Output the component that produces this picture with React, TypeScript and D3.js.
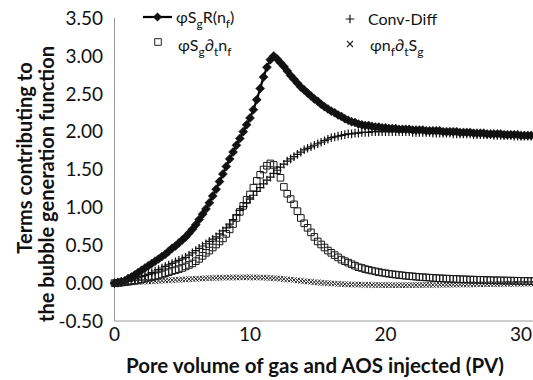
import React from 'react';
import * as d3 from 'd3';

// Pore volumes injected (PV) at which the simulator reported the terms
const PV = [
  0, 0.25, 0.5, 0.75, 1, 1.25, 1.5, 1.75,
  2, 2.25, 2.5, 2.75, 3, 3.25, 3.5, 3.75,
  4, 4.25, 4.5, 4.75, 5, 5.25, 5.5, 5.75,
  6, 6.25, 6.5, 6.75, 7, 7.25, 7.5, 7.75,
  8, 8.25, 8.5, 8.75, 9, 9.25, 9.5, 9.75,
  10, 10.25, 10.5, 10.75, 11, 11.25, 11.5, 11.75,
  12, 12.25, 12.5, 12.75, 13, 13.25, 13.5, 13.75,
  14, 14.25, 14.5, 14.75, 15, 15.25, 15.5, 15.75,
  16, 16.25, 16.5, 16.75, 17, 17.25, 17.5, 17.75,
  18, 18.25, 18.5, 18.75, 19, 19.25, 19.5, 19.75,
  20, 20.25, 20.5, 20.75, 21, 21.25, 21.5, 21.75,
  22, 22.25, 22.5, 22.75, 23, 23.25, 23.5, 23.75,
  24, 24.25, 24.5, 24.75, 25, 25.25, 25.5, 25.75,
  26, 26.25, 26.5, 26.75, 27, 27.25, 27.5, 27.75,
  28, 28.25, 28.5, 28.75, 29, 29.25, 29.5, 29.75,
  30, 30.25, 30.5, 30.75, 31, 31.25,
];

// φ S_g R(n_f)
const GENERATION = [
  0.00, 0.01, 0.02, 0.03, 0.06, 0.08, 0.11, 0.14,
  0.17, 0.20, 0.23, 0.26, 0.29, 0.32, 0.35, 0.38,
  0.42, 0.46, 0.49, 0.53, 0.57, 0.61, 0.66, 0.71,
  0.77, 0.84, 0.91, 0.98, 1.06, 1.15, 1.24, 1.34,
  1.44, 1.54, 1.64, 1.73, 1.82, 1.91, 2.00, 2.09,
  2.18, 2.29, 2.42, 2.57, 2.72, 2.85, 2.95, 3.00,
  2.96, 2.91, 2.86, 2.80, 2.74, 2.69, 2.64, 2.59,
  2.55, 2.51, 2.47, 2.43, 2.40, 2.36, 2.33, 2.30,
  2.27, 2.25, 2.22, 2.20, 2.17, 2.15, 2.13, 2.12,
  2.10, 2.09, 2.08, 2.08, 2.07, 2.06, 2.06, 2.05,
  2.05, 2.04, 2.04, 2.04, 2.03, 2.03, 2.03, 2.03,
  2.02, 2.02, 2.02, 2.02, 2.01, 2.01, 2.01, 2.01,
  2.01, 2.00, 2.00, 2.00, 2.00, 2.00, 1.99, 1.99,
  1.99, 1.99, 1.98, 1.98, 1.98, 1.98, 1.97, 1.97,
  1.97, 1.97, 1.97, 1.96, 1.96, 1.96, 1.96, 1.96,
  1.95, 1.95, 1.95, 1.95, 1.95, 1.94,
];

// φ S_g ∂_t n_f
const ACCUMULATION = [
  0.000, 0.003, 0.007, 0.012, 0.018, 0.025, 0.032, 0.040,
  0.050, 0.060, 0.070, 0.080, 0.090, 0.100, 0.115, 0.130,
  0.145, 0.160, 0.170, 0.185, 0.200, 0.220, 0.240, 0.260,
  0.29, 0.32, 0.36, 0.40, 0.43, 0.47, 0.51, 0.55,
  0.59, 0.65, 0.71, 0.78, 0.86, 0.94, 1.02, 1.10,
  1.17, 1.26, 1.35, 1.43, 1.50, 1.55, 1.58, 1.56,
  1.49, 1.39, 1.27, 1.18, 1.11, 1.04, 0.95, 0.86,
  0.79, 0.73, 0.67, 0.61, 0.55, 0.51, 0.47, 0.43,
  0.40, 0.37, 0.34, 0.31, 0.29, 0.27, 0.25, 0.23,
  0.210, 0.200, 0.185, 0.175, 0.165, 0.155, 0.145, 0.138,
  0.130, 0.124, 0.118, 0.112, 0.107, 0.102, 0.097, 0.093,
  0.089, 0.085, 0.081, 0.078, 0.075, 0.072, 0.069, 0.066,
  0.064, 0.062, 0.060, 0.058, 0.056, 0.054, 0.052, 0.050,
  0.049, 0.047, 0.046, 0.044, 0.043, 0.042, 0.040, 0.039,
  0.038, 0.037, 0.036, 0.035, 0.034, 0.033, 0.032, 0.031,
  0.030, 0.029, 0.028, 0.028, 0.027, 0.026,
];

// Convection-diffusion term
const CONV_DIFF = [
  0.000, 0.003, 0.010, 0.020, 0.030, 0.040, 0.055, 0.070,
  0.085, 0.100, 0.120, 0.140, 0.160, 0.180, 0.200, 0.220,
  0.24, 0.26, 0.28, 0.30, 0.32, 0.34, 0.37, 0.40,
  0.43, 0.46, 0.49, 0.52, 0.55, 0.58, 0.61, 0.65,
  0.69, 0.73, 0.78, 0.84, 0.90, 0.96, 1.01, 1.06,
  1.11, 1.16, 1.21, 1.26, 1.31, 1.36, 1.40, 1.45,
  1.49, 1.53, 1.57, 1.61, 1.64, 1.67, 1.70, 1.73,
  1.76, 1.78, 1.80, 1.82, 1.84, 1.86, 1.88, 1.90,
  1.92, 1.93, 1.94, 1.95, 1.96, 1.97, 1.97, 1.98,
  1.98, 1.99, 1.99, 1.99, 2.00, 2.00, 2.00, 2.00,
  2.00, 2.00, 2.00, 2.00, 2.00, 2.00, 2.00, 2.00,
  1.99, 1.99, 1.99, 1.99, 1.99, 1.99, 1.98, 1.98,
  1.98, 1.98, 1.98, 1.98, 1.97, 1.97, 1.97, 1.97,
  1.97, 1.97, 1.96, 1.96, 1.96, 1.96, 1.96, 1.96,
  1.95, 1.95, 1.95, 1.95, 1.95, 1.95, 1.94, 1.94,
  1.94, 1.94, 1.94, 1.94, 1.93, 1.93,
];

// φ n_f ∂_t S_g
const SATURATION = [
  0.000, 0.002, 0.004, 0.006, 0.008, 0.010, 0.013, 0.015,
  0.018, 0.020, 0.023, 0.025, 0.028, 0.030, 0.033, 0.035,
  0.038, 0.040, 0.043, 0.045, 0.048, 0.050, 0.053, 0.055,
  0.057, 0.060, 0.062, 0.064, 0.066, 0.068, 0.070, 0.071,
  0.072, 0.073, 0.074, 0.075, 0.075, 0.076, 0.076, 0.076,
  0.076, 0.075, 0.075, 0.074, 0.072, 0.070, 0.068, 0.065,
  0.062, 0.058, 0.054, 0.050, 0.046, 0.041, 0.036, 0.031,
  0.026, 0.021, 0.017, 0.013, 0.009, 0.005, 0.002, -0.001,
  -0.004, -0.007, -0.010, -0.012, -0.014, -0.016, -0.018, -0.019,
  -0.020, -0.021, -0.022, -0.023, -0.024, -0.025, -0.025, -0.026,
  -0.026, -0.026, -0.027, -0.027, -0.027, -0.027, -0.027, -0.026,
  -0.026, -0.026, -0.025, -0.025, -0.024, -0.024, -0.023, -0.023,
  -0.022, -0.022, -0.021, -0.021, -0.020, -0.019, -0.019, -0.018,
  -0.017, -0.017, -0.016, -0.015, -0.015, -0.014, -0.013, -0.013,
  -0.012, -0.012, -0.011, -0.010, -0.010, -0.009, -0.009, -0.008,
  -0.008, -0.007, -0.007, -0.006, -0.006, -0.006,
];

const Y_TICKS = [-0.5, 0, 0.5, 1, 1.5, 2, 2.5, 3, 3.5];
const X_TICKS = [0, 10, 20, 30];

const W = 533;
const H = 380;
const FONT = 'Lato, "Open Sans", sans-serif';

const x = d3.scaleLinear().domain([0, 31.5]).range([114.5, 114.5 + 31.5 * 13.55]);
const y = d3.scaleLinear().domain([-0.5, 3.5]).range([321, 18]);
const fmt = (v: number) => d3.format('.2f')(v).replace('\u2212', '-');

// marker shapes, centred on the origin
const diamondPath = (s: number) => `M0,${-s}L${s},0L0,${s}L${-s},0Z`;
const squarePath = (s: number) => `M${-s},${-s}H${s}V${s}H${-s}Z`;
const plusPath = (s: number) => `M${-s},0H${s}M0,${-s}V${s}`;
const crossPath = (s: number) => `M${-s},${-s}L${s},${s}M${-s},${s}L${s},${-s}`;

const genLine = d3
  .line<number>()
  .x((_, i) => x(PV[i]))
  .y((d) => y(d));

function Markers({ values, d, fill, stroke, sw }: { values: number[]; d: string; fill: string; stroke: string; sw: number }) {
  return (
    <g>
      {values.map((v, i) => (
        <path key={i} d={d} transform={`translate(${x(PV[i])},${y(v)})`} fill={fill} stroke={stroke} strokeWidth={sw} />
      ))}
    </g>
  );
}

const sub = (t: string) => (
  <tspan dy={5} fontSize={12}>
    {t}
  </tspan>
);

export default function App() {
  return (
    <svg width={W} height={H} style={{ position: 'absolute', left: 0, top: 0, background: '#fff' }} fontFamily={FONT}>
      <rect width={W} height={H} fill="#fff" />

      {/* axes */}
      <line x1={114.5} x2={114.5} y1={y(3.5)} y2={y(-0.5)} stroke="#9a9a9a" strokeWidth={1} />
      <line x1={114.5} x2={W} y1={y(-0.5)} y2={y(-0.5)} stroke="#9a9a9a" strokeWidth={1} />

      {Y_TICKS.map((t) => (
        <text key={t} x={103} y={y(t)} dy="0.36em" textAnchor="end" fontSize={19} fill="#111">
          {fmt(t)}
        </text>
      ))}
      {X_TICKS.map((t) => (
        <text key={t} x={x(t)} y={334} dy="0.36em" textAnchor="middle" fontSize={19} fill="#111">
          {t}
        </text>
      ))}

      <text x={315} y={366} dy="0.36em" textAnchor="middle" fontSize={20.5} fontWeight="bold" fill="#111">
        Pore volume of gas and AOS injected (PV)
      </text>
      <g transform="translate(25,0) rotate(-90)">
        <text x={-158} y={0} dy="0.36em" textAnchor="middle" fontSize={20} fontWeight="bold" fill="#111">
          Terms contributing to
        </text>
        <text x={-184} y={22} dy="0.36em" textAnchor="middle" fontSize={20} fontWeight="bold" fill="#111">
          the bubble generation function
        </text>
      </g>

      {/* series */}
      <path d={genLine(GENERATION) || ''} fill="none" stroke="#000" strokeWidth={2.25} />
      <Markers values={GENERATION} d={diamondPath(4.5)} fill="#111" stroke="#111" sw={0.5} />
      <Markers values={ACCUMULATION} d={squarePath(3.3)} fill="none" stroke="#1a1a1a" sw={1} />
      <Markers values={CONV_DIFF} d={plusPath(4.3)} fill="none" stroke="#111" sw={1.2} />
      <Markers values={SATURATION} d={crossPath(2.8)} fill="none" stroke="#222" sw={1} />

      {/* legend */}
      <line x1={143} x2={172} y1={17} y2={17} stroke="#000" strokeWidth={2.25} />
      <path d={diamondPath(4.5)} transform="translate(157.5,17)" fill="#111" />
      <text x={176} y={23} fontSize={16} fill="#111">
        φS{sub('g')}
        <tspan dy={-5}>R(n</tspan>
        {sub('f')}
        <tspan dy={-5}>)</tspan>
      </text>

      <path d={squarePath(3.3)} transform="translate(158,42)" fill="none" stroke="#222" strokeWidth={1} />
      <text x={178} y={51} fontSize={16} fill="#111">
        φS{sub('g')}
        <tspan dy={-5}>∂</tspan>
        {sub('t')}
        <tspan dy={-5}>n</tspan>
        {sub('f')}
      </text>

      <path d={plusPath(4.3)} transform="translate(350,19)" fill="none" stroke="#111" strokeWidth={1.2} />
      <text x={368} y={25} fontSize={16} fill="#111">
        Conv-Diff
      </text>

      <path d={crossPath(3)} transform="translate(350,44)" fill="none" stroke="#222" strokeWidth={1.1} />
      <text x={370} y={51} fontSize={16} fill="#111">
        φn{sub('f')}
        <tspan dy={-5}>∂</tspan>
        {sub('t')}
        <tspan dy={-5}>S</tspan>
        {sub('g')}
      </text>
    </svg>
  );
}
